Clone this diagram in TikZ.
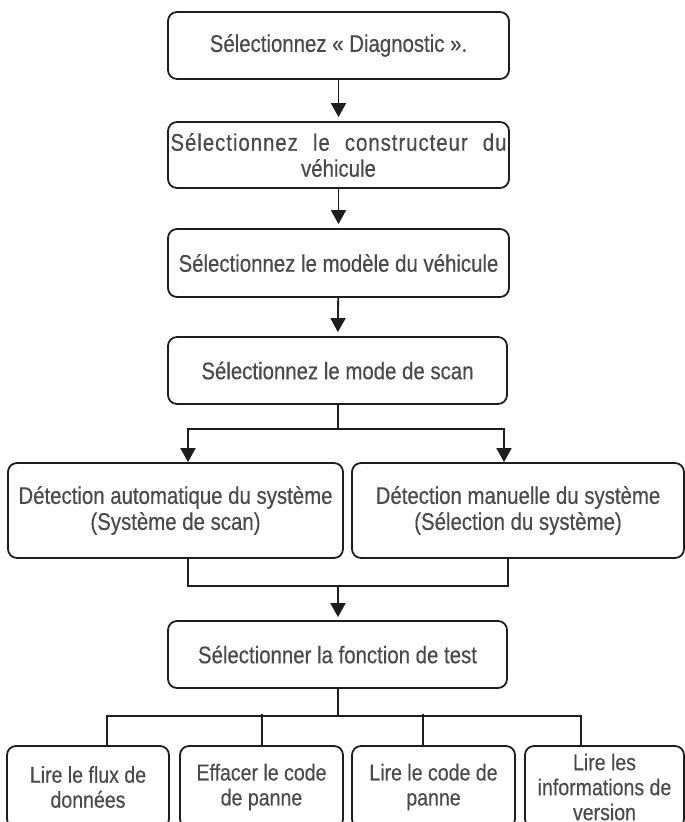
\documentclass[tikz,border=0pt]{standalone}
\usepackage{fontspec}
\setmainfont[FakeStretch=0.85,FakeBold=0.4]{Liberation Sans}
\usetikzlibrary{arrows.meta,calc}
\definecolor{txt}{HTML}{4A4A4A}
\definecolor{ink}{HTML}{1E1E1E}
\begin{document}
\begin{tikzpicture}[x=1pt,y=-1pt,
  box/.style={draw=ink,line width=1.8pt,rounded corners=9pt,text=txt,
    inner sep=0pt,align=center,font=\fontsize{24}{26}\selectfont},
  wide/.style={box,minimum width=341pt,minimum height=67pt},
  side/.style={box,minimum height=95pt},
  leaf/.style={box,minimum height=82pt,font=\fontsize{23}{25}\selectfont},
  link/.style={draw=ink,line width=1.8pt},
  arr/.style={link,-{Triangle[width=15pt,length=14pt]}}]
\useasboundingbox (0,0) rectangle (685,822);
\clip (0,0) rectangle (685,822);

% main chain
\node[wide] (b1) at (338.5,45.5) {Sélectionnez « Diagnostic ».};
\node[wide,minimum height=66pt] (b2) at (338.5,155)
  {\makebox[336pt][s]{\addfontfeature{LetterSpace=4}Sélectionnez le constructeur du}\\véhicule};
\node[wide,minimum height=68pt] (b3) at (338.5,263) {Sélectionnez le modèle du véhicule};
\node[wide,minimum width=339pt] (b4) at (337.5,370.5) {Sélectionnez le mode de scan};

% scan modes
\node[side,minimum width=335pt] (bl) at (175.5,510.5)
  {Détection automatique du système\\(Système de scan)};
\node[side,minimum width=332pt] (br) at (518,510.5)
  {Détection manuelle du système\\(Sélection du système)};

\node[wide,minimum width=339pt] (b5) at (337.5,654.5) {Sélectionner la fonction de test};

% test functions
\node[leaf,minimum width=162pt] (f1) at (88,787) {Lire le flux de\\données};
\node[leaf,minimum width=163pt] (f2) at (261.5,787) {Effacer le code\\de panne};
\node[leaf,minimum width=163pt] (f3) at (433.5,787) {Lire le code de\\panne};
\node[leaf,minimum width=159pt] (f4) at (604.5,787) {Lire les\\informations de\\version};

% connectors
\draw[arr,shorten >=4pt] (b1) -- (b2);
\draw[arr,shorten >=4pt] (b2) -- (b3);
\draw[arr,shorten >=4pt] (b3) -- (b4);

\coordinate (split) at ($(b4.south)+(0.5,24)$);
\draw[link] (b4.south -| split) -- (split);
\draw[arr] (split) -| ($(bl.north)+(12.5,0)$);
\draw[arr] (split) -| ($(br.north)+(-14,0)$);

\coordinate (merge) at ($(b5.north)+(0.5,-34)$);
\draw[link] ($(bl.south)+(12.5,0)$) |- (merge);
\draw[link] ($(br.south)+(-10,0)$) |- (merge);
\draw[arr,shorten >=3pt] (merge) -- (b5.north -| merge);

\coordinate (fan) at ($(b5.south)+(0.5,27)$);
\draw[link] (b5.south -| fan) -- (fan);
\draw[link] (fan) -| ($(f1.north)+(19,0)$);
\draw[link] (fan) -| ($(f4.north)+(-23.5,0)$);
\draw[link] ($(f2.north)+(0.5,0)$) -- ($(f2.north)+(0.5,-31)$);
\draw[link] ($(f3.north)+(-10.5,0)$) -- ($(f3.north)+(-10.5,-31)$);
\end{tikzpicture}
\end{document}
